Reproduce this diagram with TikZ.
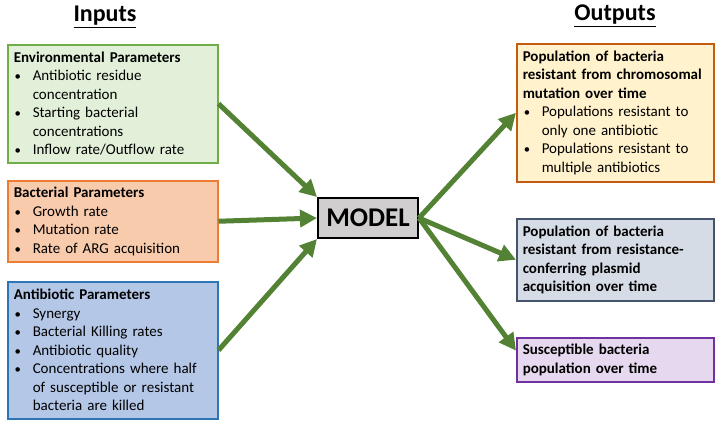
\documentclass[tikz,border=0pt]{standalone}
\usepackage{fontspec}
\setmainfont{Carlito}
\usetikzlibrary{arrows.meta,calc}
\definecolor{arrowgreen}{HTML}{548235}
\definecolor{envdraw}{HTML}{70AD47}
\definecolor{envfill}{HTML}{E2F0D9}
\definecolor{bacdraw}{HTML}{ED7D31}
\definecolor{bacfill}{HTML}{F8CBAD}
\definecolor{antdraw}{HTML}{2E75B6}
\definecolor{antfill}{HTML}{B4C7E7}
\definecolor{oadraw}{HTML}{C55A11}
\definecolor{oafill}{HTML}{FFF2CC}
\definecolor{obdraw}{HTML}{44546A}
\definecolor{obfill}{HTML}{D6DCE5}
\definecolor{ocdraw}{HTML}{7030A0}
\definecolor{ocfill}{HTML}{E6D8EE}
\definecolor{modelfill}{HTML}{D0CECE}
\newcommand\bitem[1]{\hangindent=19pt\hangafter=1\noindent
  \makebox[19pt][l]{\hspace{1pt}\scalebox{0.85}{•}}#1\par}
\newcommand\bline[1]{\noindent\textbf{#1}\par}
\tikzset{
  infobox/.style={draw, line width=1.5pt, anchor=north west, align=left,
    inner xsep=6pt, inner ysep=3pt,
    font=\fontsize{15}{18.5}\selectfont},
  inbox/.style={infobox, text width=198pt, minimum width=210pt},
  outbox/.style={infobox, text width=185pt, minimum width=197pt},
  flow/.style={draw=arrowgreen, line width=5pt, -{Triangle[length=17pt,width=17pt]}},
  heading/.style={font=\fontsize{24}{28}\selectfont\bfseries}
}
\begin{document}
\begin{tikzpicture}[x=1pt,y=-1pt]
\useasboundingbox (0,0) rectangle (720,423);
\fill[white] (0,0) rectangle (720,423);

\node[heading] (tin) at (105,17) {\underline{Inputs}};
\node[heading] (tout) at (615,16) {\underline{Outputs}};

\node[inbox, draw=envdraw, fill=envfill, minimum height=118pt] (env) at (7,44)
  {\bline{Environmental Parameters}
   \bitem{Antibiotic residue\newline concentration}
   \bitem{Starting bacterial\newline concentrations}
   \bitem{Inflow rate/Outflow rate}};

\node[inbox, draw=bacdraw, fill=bacfill, minimum height=81pt] (bac) at (7,180)
  {\bline{Bacterial Parameters}
   \bitem{Growth rate}
   \bitem{Mutation rate}
   \bitem{Rate of ARG acquisition}};

\node[inbox, draw=antdraw, fill=antfill, minimum height=137pt] (ant) at (7,281)
  {\bline{Antibiotic Parameters}
   \bitem{Synergy}
   \bitem{Bacterial Killing rates}
   \bitem{Antibiotic quality}
   \bitem{Concentrations where half\newline of susceptible or resistant\newline bacteria are killed}};

\node[draw=black, line width=2pt, fill=modelfill, minimum width=100pt, minimum height=40pt,
      inner sep=0pt, font=\fontsize{27}{30}\selectfont\bfseries] (model) at (368,218) {MODEL};

\node[outbox, draw=oadraw, fill=oafill, minimum height=138pt] (oa) at (516,43)
  {\bline{Population of bacteria}
   \bline{resistant from chromosomal}
   \bline{mutation over time}
   \bitem{Populations resistant to\newline only one antibiotic}
   \bitem{Populations resistant to\newline multiple antibiotics}};

\node[outbox, draw=obdraw, fill=obfill, minimum height=82pt] (ob) at (516,218)
  {\bline{Population of bacteria}
   \bline{resistant from resistance-}
   \bline{conferring plasmid}
   \bline{acquisition over time}};

\node[outbox, draw=ocdraw, fill=ocfill, minimum height=44pt] (oc) at (516,337)
  {\bline{Susceptible bacteria}
   \bline{population over time}};

\draw[flow] (env.east) -- (model.north west);
\draw[flow] (bac.east) -- (model.west);
\draw[flow] (ant.east) -- (model.south west);
\draw[flow] (model.east) -- (oa.west);
\draw[flow] (model.east) -- (ob.west);
\draw[flow] (model.east) -- ($(oc.north west)!0.3!(oc.south west)$);
\end{tikzpicture}
\end{document}
